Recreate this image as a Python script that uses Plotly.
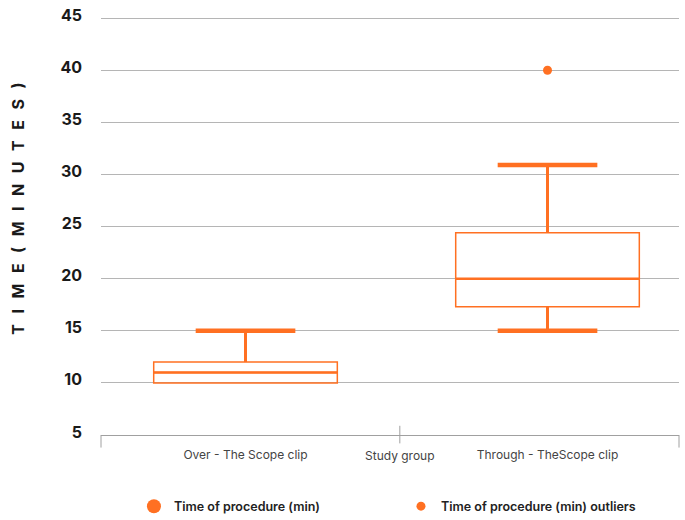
import plotly.graph_objects as go

# ---- data ----
categories = ["Over - The Scope clip", "Through - TheScope clip"]
q1 = [10, 17.3]
median = [11, 20]
q3 = [12, 24.4]
lower_fence = [10, 15]
upper_fence = [15, 30.9]
outlier_cat = [1]
outlier_val = [40]
y_ticks = [5, 10, 15, 20, 25, 30, 35, 40, 45]

ORANGE = "#FF7022"
GRID = "#b5b5b5"
FONT = "Inter, Open Sans, sans-serif"

x_pos = list(range(len(categories)))
box_w = 0.608
cap_half = 0.165

fig = go.Figure()

fig.add_trace(go.Box(
    x=x_pos, q1=q1, median=median, q3=q3,
    lowerfence=lower_fence, upperfence=upper_fence,
    width=box_w, whiskerwidth=0,
    line=dict(color=ORANGE, width=1.5),
    fillcolor="rgba(0,0,0,0)", boxpoints=False,
    showlegend=False, hoverinfo="skip",
))

# thick whiskers, caps and medians built from the data
wx, wy, cx, cy, mx, my = [], [], [], [], [], []
for i in x_pos:
    if upper_fence[i] > q3[i]:
        wx += [i, i, None]; wy += [q3[i], upper_fence[i], None]
        cx += [i - cap_half, i + cap_half, None]; cy += [upper_fence[i], upper_fence[i], None]
    if lower_fence[i] < q1[i]:
        wx += [i, i, None]; wy += [q1[i], lower_fence[i], None]
        cx += [i - cap_half, i + cap_half, None]; cy += [lower_fence[i], lower_fence[i], None]
    mx += [i - box_w / 2, i + box_w / 2, None]; my += [median[i], median[i], None]

fig.add_trace(go.Scatter(x=wx, y=wy, mode="lines", line=dict(color=ORANGE, width=3),
                         showlegend=False, hoverinfo="skip"))
fig.add_trace(go.Scatter(x=cx, y=cy, mode="lines", line=dict(color=ORANGE, width=4.5),
                         showlegend=False, hoverinfo="skip"))
fig.add_trace(go.Scatter(x=mx, y=my, mode="lines", line=dict(color=ORANGE, width=2.5),
                         showlegend=False, hoverinfo="skip"))

# legend entry for the boxes
fig.add_trace(go.Scatter(x=[None], y=[None], mode="markers", name="Time of procedure (min)",
                         marker=dict(color=ORANGE, size=14), legend="legend"))
# outliers
fig.add_trace(go.Scatter(x=outlier_cat, y=outlier_val, mode="markers",
                         name="Time of procedure (min) outliers",
                         marker=dict(color=ORANGE, size=9), legend="legend2"))

sp = "\u2002\u2009"
ytitle = sp.join(list("TIME(MINUTES)"))

legend_font = dict(family=FONT, size=12.5, color="#222222", weight=600)

fig.update_layout(
    width=685, height=520,
    margin=dict(l=101, r=6, t=16, b=85, autoexpand=False),
    paper_bgcolor="white", plot_bgcolor="white",
    font=dict(family=FONT, color="#333333"),
    legend=dict(orientation="h", x=0.057, xanchor="left", y=-0.135, yanchor="top",
                font=legend_font),
    legend2=dict(orientation="h", x=0.519, xanchor="left", y=-0.135, yanchor="top",
                 font=legend_font),
    xaxis=dict(
        range=[-0.4785, 1.4354], tickvals=x_pos, ticktext=categories,
        showgrid=False, zeroline=False, showline=True, linecolor="#a0a0a0", linewidth=1,
        ticks="", tickfont=dict(family=FONT, size=12, color="#444444"),
        ticklabelstandoff=9,
    ),
    yaxis=dict(
        range=[5, 45.2], tickvals=y_ticks, showgrid=True, gridcolor=GRID, gridwidth=1,
        zeroline=False, showline=False, ticks="",
        tickfont=dict(family=FONT, size=16, color="#1a1a1a", weight=700),
        ticklabelstandoff=18, ticklabelshift=-3,
    ),
    shapes=[
        dict(type="line", xref="paper", yref="paper", x0=0, x1=0, y0=0, y1=-0.03,
             line=dict(color="#a0a0a0", width=1)),
        dict(type="line", xref="paper", yref="paper", x0=1, x1=1, y0=0, y1=-0.03,
             line=dict(color="#a0a0a0", width=1)),
        dict(type="line", xref="paper", yref="paper", x0=0.517, x1=0.517, y0=0.022, y1=-0.02,
             line=dict(color="#a0a0a0", width=1)),
    ],
    annotations=[
        dict(text=ytitle, xref="paper", yref="paper",
             x=-0.1436, y=0.54, xanchor="center", yanchor="middle", textangle=-90,
             showarrow=False, font=dict(family=FONT, size=16, color="#1a1a1a", weight=700)),
        dict(text="Study group", xref="paper", yref="paper", x=0.517, y=-0.048,
             xanchor="center", yanchor="middle", showarrow=False,
             font=dict(family=FONT, size=12, color="#444444")),
    ],
)

fig.write_html("out.html", config={"displayModeBar": False},
               post_script="document.body.style.margin='0';")
